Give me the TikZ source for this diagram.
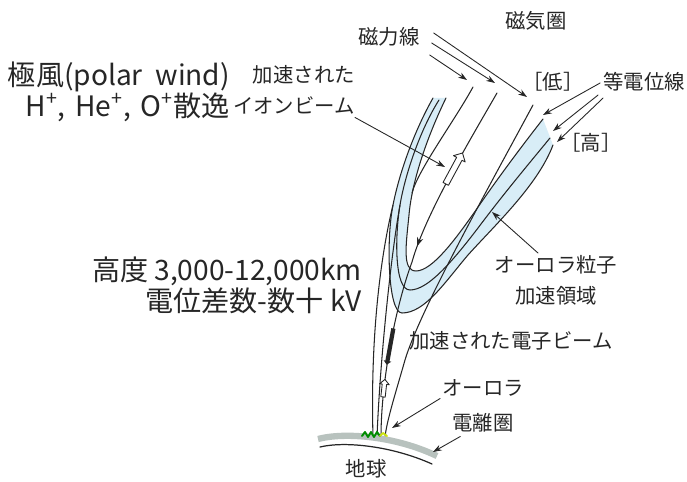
\documentclass[tikz,border=0pt]{standalone}
\usepackage{fontspec}
\setmainfont{Noto Sans CJK JP}
\usetikzlibrary{arrows.meta,shapes.arrows,decorations.markings}

\definecolor{accblue}{RGB}{216,237,247}
\definecolor{ionogray}{RGB}{184,194,190}
\definecolor{inkgray}{RGB}{38,38,38}

\begin{document}
\begin{tikzpicture}[x=0.02cm, y=-0.02cm, line cap=round, line join=round]
\tikzset{
  fline/.style={draw=inkgray, line width=0.6pt},
  ptr/.style={draw=inkgray, line width=0.5pt, -{Stealth[length=5pt,width=3.4pt]}},
  lbl/.style={text=inkgray, font=\fontsize{11.6}{17.6}\selectfont, inner sep=1pt},
  biglbl/.style={text=inkgray, font=\fontsize{16}{17.6}\selectfont, align=right, inner sep=1pt},
  ionarrow/.style={shape=single arrow, draw=inkgray, fill=white, line width=0.5pt,
    inner sep=0pt, inner ysep=1.5pt, single arrow head extend=2pt,
    minimum height=20pt, transform shape},
  ebeam/.style={shape=single arrow, fill=inkgray, inner sep=0pt, inner ysep=0.9pt,
    single arrow head extend=1pt, minimum height=21pt, transform shape},
}
\useasboundingbox (0,0) rectangle (687,482);

% acceleration region between outer and inner equipotential
\fill[accblue] (433,98) .. controls (415,130) and (400,170) .. (393,205)
  .. controls (386,240) and (388,313) .. (402,313)
  .. controls (425,313) and (445,282) .. (468,255)
  .. controls (495,225) and (538,185) .. (553,145) -- (543,119)
  .. controls (525,142) and (500,175) .. (476,210)
  .. controls (455,240) and (432,271) .. (416,271)
  .. controls (402,271) and (406,245) .. (409,215)
  .. controls (412,180) and (428,135) .. (446,98) -- cycle;

% equipotential lines (U shaped)
\draw[fline] (433,98) .. controls (415,130) and (400,170) .. (393,205)
  .. controls (386,240) and (388,313) .. (402,313)
  .. controls (425,313) and (445,282) .. (468,255)
  .. controls (495,225) and (538,185) .. (553,145);
\draw[fline] (439,100) .. controls (420,130) and (405,175) .. (400,205)
  .. controls (395,235) and (394,290) .. (410,290)
  .. controls (428,290) and (452,262) .. (478,228)
  .. controls (505,192) and (532,160) .. (550,138);
\draw[fline] (446,98) .. controls (428,135) and (412,180) .. (409,215)
  .. controls (406,245) and (402,271) .. (416,271)
  .. controls (432,271) and (455,240) .. (476,210)
  .. controls (500,175) and (525,142) .. (543,119);

% field lines down to the ionosphere
\draw[fline] (393,205) .. controls (382,250) and (370,330) .. (373,437);
\draw[fline] (400,205) .. controls (391,255) and (380,360) .. (377,437);
\draw[fline] (473,87) .. controls (455,120) and (418,170) .. (412,193);
\draw[fline] (533,105) .. controls (490,185) and (420,310) .. (405,360)
  .. controls (395,395) and (387,420) .. (385,437);
\draw[fline, postaction={decorate}, decoration={markings,
    mark=at position 0.24 with {\node[ionarrow, rotate=180] {};},
    mark=at position 0.47 with {\arrow[inkgray]{Stealth[length=5pt,width=3.6pt]}},
    mark=at position 0.75 with {\node[ebeam] {};},
    mark=at position 0.87 with {\node[ionarrow, minimum height=10pt,
      inner ysep=1pt, single arrow head extend=1.5pt, rotate=180] {};}}]
  (497,93) .. controls (470,140) and (425,215) .. (412,262)
  .. controls (396,305) and (381,380) .. (381,437);

% ionosphere, ground and aurora
\draw[ionogray, line width=3.6pt, line cap=butt] (318,439) .. controls (345,432) and (395,436) .. (437,456);
\draw[inkgray, line width=0.7pt] (320,447) .. controls (345,441) and (392,446) .. (432,464);
\draw[green!55!black, line width=1.1pt] (362,436) -- (365,432) -- (368,437) -- (371,432)
  -- (374,437) -- (377,432) -- (380,436);
\draw[yellow!80!green, line width=1.1pt] (380,436) -- (383,433) -- (387,436);

% labels
\node[lbl] (magsph) at (536,21) {磁気圏};
\node[lbl] (magline) at (389,37) {磁力線};
\node[lbl, align=right, anchor=east] (ionlbl) at (357,90) {加速された\\イオンビーム};
\node[lbl] (lowlbl) at (553,82) {［低］};
\node[lbl] (eqlbl) at (644,82) {等電位線};
\node[lbl] (highlbl) at (591,143) {［高］};
\node[lbl, align=center] (acclbl) at (556,280) {オーロラ粒子\\加速領域};
\node[lbl] (elbl) at (511,341) {加速された電子ビーム};
\node[lbl] (aurlbl) at (483,388) {オーロラ};
\node[lbl] (ionolbl) at (483,423) {電離圏};
\node[lbl] (earthlbl) at (366,469) {地球};
\node[biglbl, anchor=east] (pwind) at (232,92)
  {極風(polar\hspace{0.45em}wind)\\H\textsuperscript{+},\hspace{0.35em}He\textsuperscript{+},\hspace{0.35em}O\textsuperscript{+}散逸};
\node[biglbl, anchor=east] (altlbl) at (364,285)
  {高度 3,000-12,000km\\電位差数-数十 kV};

% pointers
\coordinate (fltop1) at (467,80);
\coordinate (fltop2) at (495,83);
\coordinate (fltop3) at (527,97);
\coordinate (eqtop1) at (543,115);
\coordinate (eqtop2) at (553,131);
\coordinate (eqtop3) at (557,142);
\coordinate (ionbeam) at (445,167);
\coordinate (accedge) at (492,212);
\coordinate (aurora) at (392,428);
\coordinate (ionosph) at (433,452);
\draw[ptr] ([shift={(12,-4)}]magline.east) -- (fltop3);
\draw[ptr] ([shift={(10,6)}]magline.east) -- (fltop2);
\draw[ptr] ([shift={(8,18)}]magline.east) -- (fltop1);
\draw[ptr] ([shift={(-1,1)}]eqlbl.west) -- (eqtop1);
\draw[ptr] ([shift={(-3,13)}]eqlbl.west) -- (eqtop2);
\draw[ptr] ([shift={(2,16)}]eqlbl.west) -- (eqtop3);
\draw[ptr] ([shift={(-2,1)}]ionlbl.south east) -- (ionbeam);
\draw[ptr] ([shift={(-18,0)}]acclbl.north) -- (accedge);
\draw[ptr] (aurlbl.south west) -- (aurora);
\draw[ptr] ([shift={(10,2)}]ionolbl.south west) -- (ionosph);
\end{tikzpicture}
\end{document}
